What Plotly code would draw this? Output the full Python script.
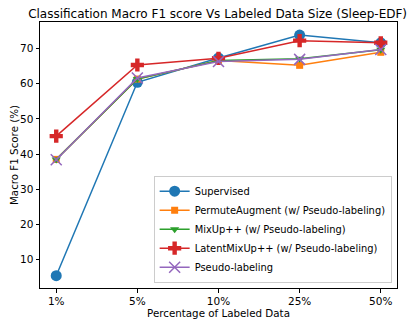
import plotly.graph_objects as go

# -------------------------------------------------
# Data
# -------------------------------------------------

labeled_pct = ["1%", "5%", "10%", "25%", "50%"]

supervised = [5.5, 60.4, 67.3, 73.8, 71.6]
permute_augment = [38.5, 61.3, 66.6, 65.2, 68.9]
mixup_pp = [38.5, 61.3, 66.6, 67.1, 69.6]
latent_mixup_pp = [45.1, 65.3, 67.2, 72.2, 71.6]
pseudo_labeling = [38.4, 61.6, 66.3, 66.9, 69.7]

series = [
    ("Supervised", supervised, "#1f77b4", "circle", 11),
    ("PermuteAugment (w/ Pseudo-labeling)", permute_augment, "#ff7f0e", "square", 7),
    ("MixUp++ (w/ Pseudo-labeling)", mixup_pp, "#2ca02c", "triangle-down", 8),
    ("LatentMixUp++ (w/ Pseudo-labeling)", latent_mixup_pp, "#d62728", "cross", 11),
    ("Pseudo-labeling", pseudo_labeling, "#9467bd", "x-thin", 11),
]

# -------------------------------------------------
# Figure
# -------------------------------------------------

fig = go.Figure()

for name, vals, color, symbol, size in series:
    marker = dict(symbol=symbol, size=size, color=color)
    if symbol == "x-thin":
        marker["line"] = dict(color=color, width=1.5)
    fig.add_trace(
        go.Scatter(
            x=labeled_pct,
            y=vals,
            name=name,
            mode="lines+markers",
            line=dict(color=color, width=1.5),
            marker=marker,
        )
    )

axis_style = dict(
    showline=True,
    linecolor="black",
    linewidth=1,
    mirror=True,
    ticks="outside",
    ticklen=3.5,
    tickcolor="black",
    showgrid=False,
    zeroline=False,
    automargin=False,
    tickfont=dict(size=10.5, color="black"),
)

# the page body has an 8px margin, so the figure is made 8px smaller
fig.update_layout(
    width=407,
    height=318,
    margin=dict(l=32, r=18, t=14, b=38),
    paper_bgcolor="white",
    plot_bgcolor="white",
    font=dict(family="DejaVu Sans", color="black", size=10),
    title=dict(
        text="Classification Macro F1 score Vs Labeled Data Size (Sleep-EDF)",
        x=0.515,
        xanchor="center",
        y=0.982,
        yanchor="middle",
        font=dict(size=12),
    ),
    xaxis=dict(
        type="category",
        range=[-0.2, 4.2],
        title=dict(text="Percentage of Labeled Data", font=dict(size=10.3), standoff=2),
        **axis_style,
    ),
    yaxis=dict(
        range=[2.0, 77.5],
        tickvals=[10, 20, 30, 40, 50, 60, 70],
        title=dict(text="Macro F1 Score (%)", font=dict(size=10.3), standoff=6),
        **axis_style,
    ),
    legend=dict(
        x=0.985,
        y=0.02,
        xanchor="right",
        yanchor="bottom",
        bordercolor="#cccccc",
        borderwidth=1,
        bgcolor="rgba(255,255,255,0.8)",
        font=dict(size=9.9),
        tracegroupgap=0,
        itemsizing="trace",
        itemwidth=30,
    ),
    showlegend=True,
)

fig.write_html("out.html")
